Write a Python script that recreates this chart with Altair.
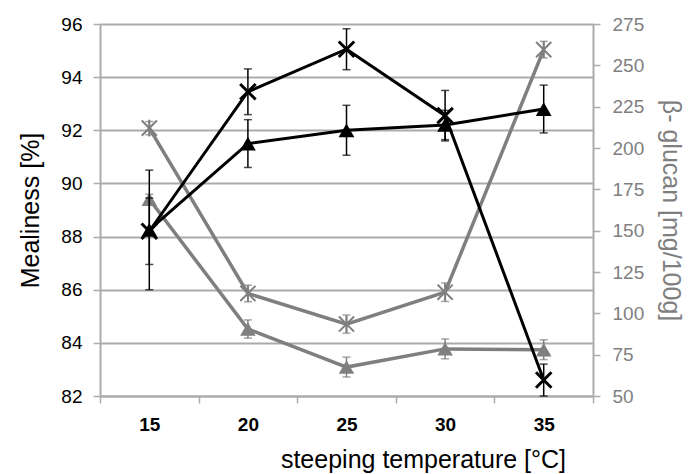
import altair as alt
import pandas as pd

temps = ["15", "20", "25", "30", "35"]

# Mealiness [%] (left axis, black)
meal_x = [88.2, 93.45, 95.05, 92.55, 82.6]
meal_x_err = [1.25, 0.86, 0.77, 0.95, 0.6]
meal_tri = [88.25, 91.5, 92.0, 92.2, 92.8]
meal_tri_err = [2.25, 0.9, 0.94, 0.55, 0.9]

# beta-glucan [mg/100g] (right axis, gray)
glu_star = [212.0, 112.0, 93.5, 112.8, 259.5]
glu_star_err = [4.0, 5.0, 5.5, 5.6, 5.0]
glu_tri = [169.0, 90.5, 67.5, 78.5, 78.0]
glu_tri_err = [3.0, 5.5, 6.0, 6.0, 6.0]

left_ticks = [82, 84, 86, 88, 90, 92, 94, 96]
right_ticks = [50, 75, 100, 125, 150, 175, 200, 225, 250, 275]

BLACK = "#000000"
GRAY = "#7f7f7f"
GRID = "#ababab"
FONT = "Liberation Sans"

X_SHAPE = "M-1,-1L1,1M-1,1L1,-1"
STAR_SHAPE = "M-1,-1L1,1M-1,1L1,-1M0,-1.1L0,1.1"


def frame(vals, errs):
    return pd.DataFrame({
        "temp": temps,
        "value": vals,
        "lo": [v - e for v, e in zip(vals, errs)],
        "hi": [v + e for v, e in zip(vals, errs)],
    })


x_enc = alt.X(
    "temp:N", sort=temps,
    scale=alt.Scale(type="band", paddingInner=0, paddingOuter=0),
    axis=alt.Axis(
        title="steeping temperature [°C]", labelAngle=0, tickBand="extent",
        labelFont=FONT, labelFontSize=19, labelFontWeight="bold", labelColor="black",
        labelPadding=12, tickSize=7, tickColor=GRID, tickWidth=1.5,
        domainColor=GRID, domainWidth=2, grid=False,
        titleFont=FONT, titleFontSize=25, titleFontWeight="normal", titleColor="black",
        titleX=323, titleY=71, titleAlign="center", titleBaseline="alphabetic",
    ),
)

left_scale = alt.Scale(domain=[82, 96], nice=False, zero=False)
right_scale = alt.Scale(domain=[50, 275], nice=False, zero=False)

left_axis = alt.Axis(
    orient="left", values=left_ticks, title="Mealiness [%]",
    grid=True, gridColor=GRID, gridWidth=2,
    domainColor=GRID, domainWidth=2, tickColor=GRID, tickSize=7, tickWidth=1.5,
    labelFont=FONT, labelFontSize=19, labelColor="black", labelPadding=11,
    titleFont=FONT, titleFontSize=25, titleFontWeight="normal", titleColor="black",
    titleX=-70, titleY=186, titleBaseline="middle", titleAlign="center",
)
right_axis = alt.Axis(
    orient="right", values=right_ticks, title="β- glucan [mg/100g]",
    grid=False,
    domainColor=GRID, domainWidth=2, tickColor=GRID, tickSize=7, tickWidth=1.5,
    labelFont=FONT, labelFontSize=19, labelColor=GRAY, labelPadding=12,
    titleFont=FONT, titleFontSize=25, titleFontWeight="normal", titleColor=GRAY,
    titleX=77, titleY=186, titleBaseline="middle", titleAlign="center", titleAngle=90,
)


def series(df, color, shape, size, filled, scale, axis, lw, mw):
    base = alt.Chart(df).encode(x=x_enc)
    line = base.mark_line(color=color, strokeWidth=lw).encode(
        y=alt.Y("value:Q", scale=scale, axis=axis))
    rule = base.mark_rule(color=color, strokeWidth=1.5).encode(
        y=alt.Y("lo:Q", scale=scale), y2="hi:Q")
    cap_lo = base.mark_tick(color=color, orient="horizontal", size=8, thickness=1.5).encode(
        y=alt.Y("lo:Q", scale=scale))
    cap_hi = base.mark_tick(color=color, orient="horizontal", size=8, thickness=1.5).encode(
        y=alt.Y("hi:Q", scale=scale))
    if filled:
        pts = base.mark_point(shape=shape, size=size, filled=True, color=color, opacity=1).encode(
            y=alt.Y("value:Q", scale=scale))
    else:
        pts = base.mark_point(shape=shape, size=size, filled=False, color=color,
                              strokeWidth=mw, opacity=1).encode(
            y=alt.Y("value:Q", scale=scale))
    return [line, rule, cap_lo, cap_hi, pts]


gray_layers = (
    series(frame(glu_star, glu_star_err), GRAY, STAR_SHAPE, 230, False, right_scale, right_axis, 3.5, 2)
    + series(frame(glu_tri, glu_tri_err), GRAY, "triangle-up", 240, True, right_scale, right_axis, 3.5, 2)
)
black_layers = (
    series(frame(meal_x, meal_x_err), BLACK, X_SHAPE, 240, False, left_scale, left_axis, 3, 3)
    + series(frame(meal_tri, meal_tri_err), BLACK, "triangle-up", 250, True, left_scale, left_axis, 3, 3)
)

gray = alt.layer(*gray_layers)
black = alt.layer(*black_layers)

chart = (
    alt.layer(gray, black)
    .resolve_scale(y="independent")
    .properties(
        width=493, height=372,
        autosize=alt.AutoSizeParams(type="none"),
        padding={"left": 100, "top": 24, "right": 102, "bottom": 78},
    )
    .configure_view(stroke=None)
    .configure(background="white")
)

chart.save("out.html", embed_options={"renderer": "svg", "actions": False})
